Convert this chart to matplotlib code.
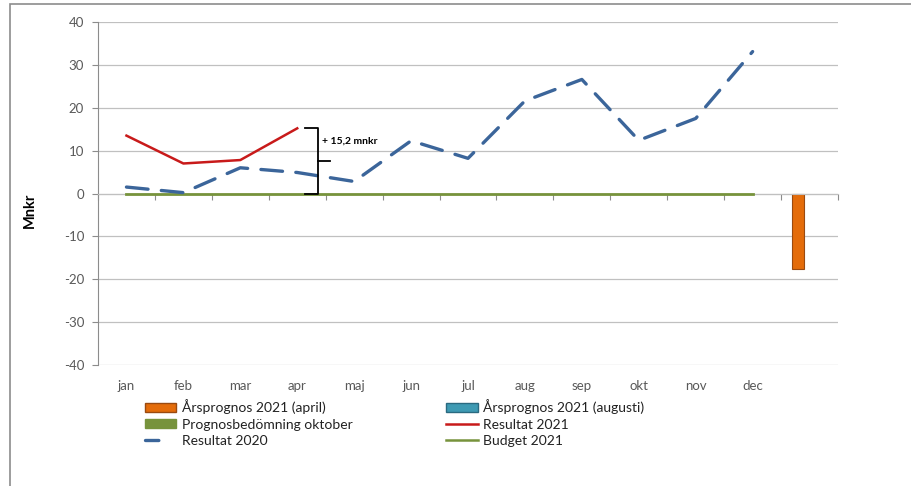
import matplotlib.pyplot as plt
from matplotlib.patches import Rectangle, Patch
from matplotlib.lines import Line2D
import matplotlib.transforms as mtransforms
import numpy as np

plt.rcParams['font.family'] = ['Lato', 'DejaVu Sans']
plt.rcParams['axes.unicode_minus'] = False

# ---------------------------------------------------------------------------
# Data
# ---------------------------------------------------------------------------
MONTHS = ["jan", "feb", "mar", "apr", "maj", "jun", "jul", "aug", "sep",
          "okt", "nov", "dec"]
RESULTAT_2021 = [13.5, 7.0, 7.8, 15.2]
RESULTAT_2020 = [1.5, 0.2, 6.0, 4.9, 2.8, 12.3, 8.2, 21.6, 26.6, 12.4, 17.5, 33.1]
BUDGET_2021 = [0.0] * 12
ARSPROGNOS_APRIL = -17.5          # bar in the 13th (unnamed) category
DIFF_LABEL = "+ 15,2 mnkr"

C_RED = "#C81A1A"
C_BLUE = "#3B659A"
C_GREEN = "#77933C"
C_ORANGE = "#E46C0A"
C_TEAL = "#3E9AB3"
C_GRID = "#C0C0C0"
C_TXT = "#595959"

fig = plt.figure(figsize=(9.12, 4.86), dpi=100)
ax = fig.add_axes([98 / 912, 1 - 365 / 486, 740 / 912, 343 / 486])

# outer chart frame
fig.patches.append(Rectangle((10 / 912, -0.02), 1.0, 1 - 4 / 486 + 0.02,
                             transform=fig.transFigure, fill=False,
                             edgecolor="#8C8C8C", linewidth=1.2, zorder=0))

x = np.arange(len(MONTHS))
ncat = len(MONTHS) + 1

# gridlines
for v in range(-40, 41, 10):
    ax.axhline(v, color=C_GRID, linewidth=0.9, zorder=0)

# bars (cluster of 3 in the 13th category, only april has a value)
bw = 0.21
ax.bar(12 - bw, ARSPROGNOS_APRIL, width=bw, color=C_ORANGE,
       edgecolor="#9A4A10", linewidth=0.8, zorder=2)

# lines
ax.plot(x, BUDGET_2021, color=C_GREEN, linewidth=2.0, zorder=3)
ax.plot(x, RESULTAT_2020, color=C_BLUE, linewidth=2.4, dashes=(6.5, 4.0),
        dash_capstyle="round", zorder=4)
ax.plot(x[:len(RESULTAT_2021)], RESULTAT_2021, color=C_RED, linewidth=1.8,
        zorder=5)

# bracket with difference label
bx = 3.36
top = RESULTAT_2021[-1]
ax.plot([bx - 0.23, bx, bx, bx - 0.23], [top, top, 0, 0], color="black",
        linewidth=1.3, zorder=6)
ax.plot([bx, bx + 0.21], [top / 2, top / 2], color="black", linewidth=1.3,
        zorder=6)
ax.text(bx + 0.07, 12.1, DIFF_LABEL, fontsize=7.5, fontweight="bold",
        va="center", ha="left", zorder=6)

ax.set_xlim(-0.5, ncat - 0.5)
ax.set_ylim(-40, 40)

# axes styling
for s in ["top", "right"]:
    ax.spines[s].set_visible(False)
ax.spines["left"].set_color("#8C8C8C")
ax.spines["bottom"].set_position(("data", 0))
ax.spines["bottom"].set_color(C_GRID)
ax.set_xticks(np.arange(ncat + 1) - 0.5)
ax.set_xticklabels([])
ax.tick_params(axis="x", length=4, color="#8C8C8C", direction="out")
ax.set_yticks(range(-40, 41, 10))
ax.tick_params(axis="y", length=4, color="#8C8C8C", labelcolor=C_TXT,
               labelsize=9.5, pad=6)

trans = mtransforms.blended_transform_factory(ax.transData, ax.transAxes)
for i, m in enumerate(MONTHS):
    ax.text(i, -0.06, m, transform=trans, ha="center", va="center",
            fontsize=9.5, color=C_TXT)

fig.text(30 / 912, 1 - 210 / 486, "Mnkr", rotation=90, fontsize=10.5,
         fontweight="bold", ha="center", va="center")

# legend
handles = [
    Patch(facecolor=C_ORANGE, edgecolor="#9A4A10"),
    Patch(facecolor=C_GREEN, edgecolor=C_GREEN),
    Line2D([], [], color=C_BLUE, linewidth=2.4, dashes=(4.0, 20.0),
           dash_capstyle="round"),
    Patch(facecolor=C_TEAL, edgecolor="#2A6A80"),
    Line2D([], [], color=C_RED, linewidth=1.8),
    Line2D([], [], color=C_GREEN, linewidth=1.8),
]
labels = ["Årsprognos 2021 (april)", "Prognosbedömning oktober", "Resultat 2020",
          "Årsprognos 2021 (augusti)", "Resultat 2021", "Budget 2021"]
fig.legend(handles, labels, ncol=2, loc="upper left",
           bbox_to_anchor=(132 / 912, 1 - 387 / 486), frameon=False,
           fontsize=10, handlelength=2.3, handleheight=0.65, handletextpad=0.4,
           labelspacing=0.3, columnspacing=6.7, labelcolor="#222222")

fig.savefig("out.png", dpi=100)
